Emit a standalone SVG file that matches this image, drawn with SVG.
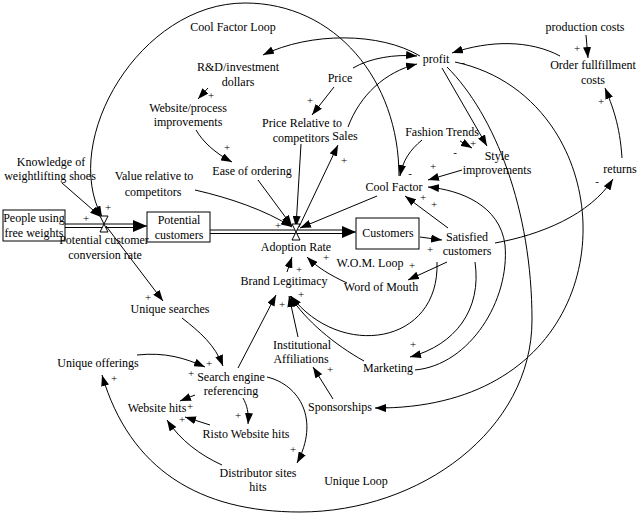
<svg xmlns="http://www.w3.org/2000/svg" width="639" height="519" viewBox="0 0 639 519">
<style>
.t{font-family:"Liberation Serif","Times New Roman",serif;font-size:12px;fill:#000;text-anchor:middle}
.p{font-family:"Liberation Serif","Times New Roman",serif;font-size:11px;fill:#000;text-anchor:middle}
.c{fill:none;stroke:#000;stroke-width:1;marker-end:url(#a)}
.box{fill:#fff;stroke:#000;stroke-width:1}
.pipe{fill:none;stroke:#000;stroke-width:1}
.valve{fill:#fff;stroke:#000;stroke-width:1}
</style>
<defs>
<marker id="a" markerUnits="userSpaceOnUse" markerWidth="11" markerHeight="8" refX="11" refY="4" orient="auto"><path d="M0,0 L11,4 L0,8 z" fill="#000"/></marker>
<marker id="b" markerUnits="userSpaceOnUse" markerWidth="14" markerHeight="12" refX="14" refY="6" orient="auto"><path d="M0,0 L14,6 L0,12 z" fill="#000"/></marker>
</defs>
<rect width="639" height="519" fill="#fff"/>

<g id="connectors">
<path class="pipe" d="M65 224 H140 M65 227.5 H140"/>
<path class="pipe" d="M140 226 H147" style="marker-end:url(#b)"/>
<path class="pipe" d="M210 230 H345 M210 233.5 H345"/>
<path class="pipe" d="M345 232 H356" style="marker-end:url(#b)"/>
<path class="c" d="M399 176 C399 80 335 3 245 3 C140 3 60 140 102 217"/>
<path class="c" d="M62 183 L101 217"/>
<path class="c" d="M106 226 L163 301"/>
<path class="c" d="M420 56 C380 32 310 32 263 55"/>
<path class="c" d="M208 88 L198 99"/>
<path class="c" d="M196 130 C203 142 215 153 232 162"/>
<path class="c" d="M334 87 L312 115"/>
<path class="c" d="M353 68 C370 58 395 54 417 56"/>
<path class="c" d="M348 127 C360 95 385 72 417 64"/>
<path class="c" d="M301 144 L296 227"/>
<path class="c" d="M299 227 L338 145"/>
<path class="c" d="M258 180 L292 226"/>
<path class="c" d="M195 190 C230 198 265 210 292 227"/>
<path class="c" d="M377 196 L300 228"/>
<path class="c" d="M182 318 C200 332 215 345 223 366"/>
<path class="c" d="M137 355 C165 352 185 358 205 367"/>
<path class="c" d="M238 368 L276 295"/>
<path class="c" d="M195 395 L180 401"/>
<path class="c" d="M243 398 C247 405 249 413 248 424"/>
<path class="c" d="M267 377 C300 385 320 420 297 463"/>
<path class="c" d="M210 425 L185 417"/>
<path class="c" d="M222 465 C200 455 180 440 167 420"/>
<path class="c" d="M333 399 L313 367"/>
<path class="c" d="M298 337 L289 296"/>
<path class="c" d="M364 361 C335 345 305 320 290 296"/>
<path class="c" d="M437 262 C440 345 340 360 291 296"/>
<path class="c" d="M287 272 L292 257"/>
<path class="c" d="M347 283 C330 275 318 268 307 257"/>
<path class="c" d="M447 262 L408 280"/>
<path class="c" d="M420 237 L442 240"/>
<path class="c" d="M448 228 L405 196"/>
<path class="c" d="M495 243 C540 235 590 215 613 179"/>
<path class="c" d="M622 158 C620 125 612 105 605 88"/>
<path class="c" d="M586 35 L588 58"/>
<path class="c" d="M560 56 C530 40 490 40 452 53"/>
<path class="c" d="M422 140 C410 150 403 160 400 176"/>
<path class="c" d="M460 141 L472 148"/>
<path class="c" d="M462 170 L428 180"/>
<path class="c" d="M442 68 L487 146"/>
<path class="c" d="M475 262 C482 310 455 345 410 357"/>
<path class="c" d="M415 370 C470 365 510 300 505 245 C500 205 460 190 428 187"/>
<path class="c" d="M447 67 C495 115 532 210 532 320 C532 430 420 512 300 512 C200 512 130 470 102 375"/>
<path class="c" d="M455 62 C635 100 640 410 375 408"/>
</g>

<g id="valve-conversion"><path class="valve" d="M100 216 L108 216 L104 224 Z M104 224 L100 232 L108 232 Z"/></g>
<g id="valve-adoption"><path class="valve" d="M292 224 L300 224 L296 232 Z M296 232 L292 240 L300 240 Z"/></g>

<g id="people"><rect class="box" x="3" y="210" width="62" height="31"/><text class="t" x="34" y="222">People using</text><text class="t" x="34" y="237">free weights</text></g>
<g id="potential"><rect class="box" x="147" y="212" width="63" height="30"/><text class="t" x="179" y="224">Potential</text><text class="t" x="179" y="239">customers</text></g>
<g id="customers"><rect class="box" x="356" y="218" width="63" height="31"/><text class="t" x="388" y="237">Customers</text></g>

<g id="cool-factor-loop"><text class="t" x="233" y="31">Cool Factor Loop</text></g>
<g id="rd"><text class="t" x="238" y="71">R&amp;D/investment</text><text class="t" x="238" y="86">dollars</text></g>
<g id="website-process"><text class="t" x="188" y="112">Website/process</text><text class="t" x="188" y="126">improvements</text></g>
<g id="price"><text class="t" x="340" y="82">Price</text></g>
<g id="price-relative"><text class="t" x="302" y="127">Price Relative to</text><text class="t" x="301" y="142">competitors</text></g>
<g id="sales"><text class="t" x="345" y="140">Sales</text></g>
<g id="ease"><text class="t" x="252" y="175">Ease of ordering</text></g>
<g id="knowledge"><text class="t" x="51" y="166">Knowledge of</text><text class="t" x="50" y="180">weightlifting shoes</text></g>
<g id="value"><text class="t" x="154" y="180">Value relative to</text><text class="t" x="153" y="196">competitors</text></g>
<g id="conversion"><text class="t" x="104" y="244">Potential customer</text><text class="t" x="105" y="259">conversion rate</text></g>
<g id="adoption"><text class="t" x="296" y="251">Adoption Rate</text></g>
<g id="satisfied"><text class="t" x="467" y="241">Satisfied</text><text class="t" x="467" y="255">customers</text></g>
<g id="wom-loop"><text class="t" x="370" y="267">W.O.M. Loop</text></g>
<g id="wom"><text class="t" x="381" y="291">Word of Mouth</text></g>
<g id="brand"><text class="t" x="284" y="285">Brand Legitimacy</text></g>
<g id="cool"><text class="t" x="394" y="191">Cool Factor</text></g>
<g id="fashion"><text class="t" x="442" y="136">Fashion Trends</text></g>
<g id="style"><text class="t" x="497" y="160">Style</text><text class="t" x="497" y="174">improvements</text></g>
<g id="profit"><text class="t" x="436" y="63">profit</text></g>
<g id="production"><text class="t" x="585" y="31">production costs</text></g>
<g id="order"><text class="t" x="593" y="69">Order fullfillment</text><text class="t" x="593" y="84">costs</text></g>
<g id="returns"><text class="t" x="620" y="173">returns</text></g>
<g id="unique-searches"><text class="t" x="170" y="313">Unique searches</text></g>
<g id="unique-offerings"><text class="t" x="98" y="367">Unique offerings</text></g>
<g id="search"><text class="t" x="231" y="381">Search engine</text><text class="t" x="231" y="395">referencing</text></g>
<g id="website-hits"><text class="t" x="157" y="412">Website hits</text></g>
<g id="risto"><text class="t" x="246" y="438">Risto Website hits</text></g>
<g id="distributor"><text class="t" x="258" y="477">Distributor sites</text><text class="t" x="258" y="491">hits</text></g>
<g id="institutional"><text class="t" x="302" y="349">Institutional</text><text class="t" x="301" y="363">Affiliations</text></g>
<g id="marketing"><text class="t" x="388" y="372">Marketing</text></g>
<g id="sponsorships"><text class="t" x="340" y="411">Sponsorships</text></g>
<g id="unique-loop"><text class="t" x="356" y="485">Unique Loop</text></g>

<g id="polarities">
<text class="p" x="211" y="99">+</text>
<text class="p" x="227" y="151">+</text>
<text class="p" x="310" y="104">+</text>
<text class="p" x="344" y="164">+</text>
<text class="p" x="278" y="229">+</text>
<text class="p" x="108" y="211">+</text>
<text class="p" x="86" y="222">+</text>
<text class="p" x="148" y="301">+</text>
<text class="p" x="299" y="273">+</text>
<text class="p" x="326" y="261">+</text>
<text class="p" x="282" y="308">+</text>
<text class="p" x="301" y="298">+</text>
<text class="p" x="330" y="373">+</text>
<text class="p" x="412" y="269">+</text>
<text class="p" x="413" y="348">+</text>
<text class="p" x="430" y="253">+</text>
<text class="p" x="433" y="170">+</text>
<text class="p" x="423" y="201">+</text>
<text class="p" x="434" y="208">+</text>
<text class="p" x="410" y="177">-</text>
<text class="p" x="473" y="147">+</text>
<text class="p" x="455" y="156">-</text>
<text class="p" x="597" y="185">-</text>
<text class="p" x="601" y="105">+</text>
<text class="p" x="577" y="52">+</text>
<text class="p" x="463" y="66">-</text>
<text class="p" x="385" y="411">+</text>
<text class="p" x="209" y="367">+</text>
<text class="p" x="191" y="377">+</text>
<text class="p" x="190" y="410">+</text>
<text class="p" x="182" y="423">+</text>
<text class="p" x="238" y="419">+</text>
<text class="p" x="293" y="453">+</text>
<text class="p" x="114" y="382">+</text>
</g>
</svg>
